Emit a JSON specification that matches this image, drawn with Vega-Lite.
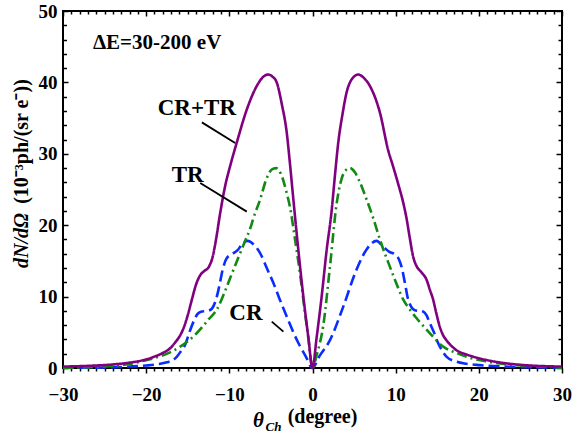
{
  "$schema": "https://vega.github.io/schema/vega-lite/v6.json",
  "autosize": "none",
  "width": 499,
  "height": 357,
  "padding": {"left": 63, "top": 11, "right": 10, "bottom": 66},
  "background": "white",
  "config": {
    "view": {"stroke": "black", "strokeWidth": 2},
    "font": "Liberation Serif",
    "axis": {"grid": false, "domain": false, "tickColor": "black", "tickWidth": 1.5, "labelColor": "black", "titleColor": "black", "labelFont": "Liberation Serif", "titleFont": "Liberation Serif", "labelFontWeight": "bold", "titleFontWeight": "bold", "labelFontSize": 19, "titleFontSize": 20}
  },
  "datasets": {
    "curves": [
      {"s": "CR", "theta": -30, "v": 0.02}, {"s": "CR", "theta": -26, "v": 0.05}, {"s": "CR", "theta": -22, "v": 0.2}, {"s": "CR", "theta": -20, "v": 0.35}, {"s": "CR", "theta": -18.5, "v": 0.55}, {"s": "CR", "theta": -17.5, "v": 0.8}, {"s": "CR", "theta": -16.8, "v": 1.1}, {"s": "CR", "theta": -16.3, "v": 1.6}, {"s": "CR", "theta": -15.8, "v": 2.4}, {"s": "CR", "theta": -15.3, "v": 3.3}, {"s": "CR", "theta": -14.8, "v": 5.0}, {"s": "CR", "theta": -14.3, "v": 6.5}, {"s": "CR", "theta": -13.8, "v": 7.6}, {"s": "CR", "theta": -13.3, "v": 7.9}, {"s": "CR", "theta": -12.6, "v": 8.0}, {"s": "CR", "theta": -12.1, "v": 8.3}, {"s": "CR", "theta": -11.6, "v": 9.6}, {"s": "CR", "theta": -11.2, "v": 11.5}, {"s": "CR", "theta": -10.8, "v": 13.8}, {"s": "CR", "theta": -10.3, "v": 15.4}, {"s": "CR", "theta": -9.6, "v": 16.0}, {"s": "CR", "theta": -9.0, "v": 16.5}, {"s": "CR", "theta": -8.5, "v": 17.3}, {"s": "CR", "theta": -7.8, "v": 17.8}, {"s": "CR", "theta": -7.0, "v": 17.2}, {"s": "CR", "theta": -6.3, "v": 16.1}, {"s": "CR", "theta": -5.5, "v": 14.0}, {"s": "CR", "theta": -4.7, "v": 11.9}, {"s": "CR", "theta": -3.9, "v": 9.5}, {"s": "CR", "theta": -3.1, "v": 7.2}, {"s": "CR", "theta": -1.7, "v": 3.5}, {"s": "CR", "theta": -0.8, "v": 1.6}, {"s": "CR", "theta": 0, "v": 0},
      {"s": "CR", "theta": 0.8, "v": 1.6}, {"s": "CR", "theta": 2.1, "v": 3.9}, {"s": "CR", "theta": 3.7, "v": 8.6}, {"s": "CR", "theta": 5.3, "v": 13.8}, {"s": "CR", "theta": 6.5, "v": 16.6}, {"s": "CR", "theta": 7.7, "v": 17.8}, {"s": "CR", "theta": 8.5, "v": 17.0}, {"s": "CR", "theta": 9.2, "v": 16.3}, {"s": "CR", "theta": 9.9, "v": 15.9}, {"s": "CR", "theta": 10.4, "v": 15.2}, {"s": "CR", "theta": 10.7, "v": 14.2}, {"s": "CR", "theta": 11.1, "v": 12.0}, {"s": "CR", "theta": 11.5, "v": 9.6}, {"s": "CR", "theta": 12.3, "v": 8.1}, {"s": "CR", "theta": 13.3, "v": 7.9}, {"s": "CR", "theta": 13.7, "v": 7.4}, {"s": "CR", "theta": 14.1, "v": 6.3}, {"s": "CR", "theta": 14.6, "v": 5.0}, {"s": "CR", "theta": 15.1, "v": 3.5}, {"s": "CR", "theta": 15.6, "v": 2.4}, {"s": "CR", "theta": 16.1, "v": 1.6}, {"s": "CR", "theta": 17.3, "v": 0.9}, {"s": "CR", "theta": 18.5, "v": 0.6}, {"s": "CR", "theta": 20.1, "v": 0.4}, {"s": "CR", "theta": 23, "v": 0.2}, {"s": "CR", "theta": 26, "v": 0.1}, {"s": "CR", "theta": 30, "v": 0.05},
      {"s": "TR", "theta": -30, "v": 0.05}, {"s": "TR", "theta": -27, "v": 0.1}, {"s": "TR", "theta": -25, "v": 0.2}, {"s": "TR", "theta": -23, "v": 0.4}, {"s": "TR", "theta": -21, "v": 0.8}, {"s": "TR", "theta": -20, "v": 1.1}, {"s": "TR", "theta": -19, "v": 1.4}, {"s": "TR", "theta": -17.9, "v": 1.8}, {"s": "TR", "theta": -15.9, "v": 3.0}, {"s": "TR", "theta": -13.9, "v": 4.9}, {"s": "TR", "theta": -12.5, "v": 6.8}, {"s": "TR", "theta": -11.5, "v": 8.2}, {"s": "TR", "theta": -10.5, "v": 10.8}, {"s": "TR", "theta": -9.9, "v": 12.6}, {"s": "TR", "theta": -8.9, "v": 15.5}, {"s": "TR", "theta": -8.1, "v": 17.8}, {"s": "TR", "theta": -7.5, "v": 19.5}, {"s": "TR", "theta": -7.1, "v": 21.0}, {"s": "TR", "theta": -6.3, "v": 23.6}, {"s": "TR", "theta": -5.5, "v": 26.6}, {"s": "TR", "theta": -4.9, "v": 27.8}, {"s": "TR", "theta": -4.4, "v": 28.0}, {"s": "TR", "theta": -3.8, "v": 27.2}, {"s": "TR", "theta": -3.1, "v": 24.5}, {"s": "TR", "theta": -2.7, "v": 22.5}, {"s": "TR", "theta": -2.1, "v": 18.0}, {"s": "TR", "theta": -1.5, "v": 13.2}, {"s": "TR", "theta": -1.0, "v": 8.6}, {"s": "TR", "theta": -0.5, "v": 4.2}, {"s": "TR", "theta": 0, "v": 0},
      {"s": "TR", "theta": 0.5, "v": 1.8}, {"s": "TR", "theta": 1.3, "v": 6.0}, {"s": "TR", "theta": 2.1, "v": 14.2}, {"s": "TR", "theta": 2.9, "v": 23.0}, {"s": "TR", "theta": 3.5, "v": 26.5}, {"s": "TR", "theta": 4.0, "v": 27.7}, {"s": "TR", "theta": 4.5, "v": 28.0}, {"s": "TR", "theta": 5.1, "v": 27.4}, {"s": "TR", "theta": 5.7, "v": 26.0}, {"s": "TR", "theta": 6.5, "v": 23.6}, {"s": "TR", "theta": 7.3, "v": 21.0}, {"s": "TR", "theta": 8.1, "v": 18.0}, {"s": "TR", "theta": 9.3, "v": 14.2}, {"s": "TR", "theta": 10.1, "v": 11.8}, {"s": "TR", "theta": 10.9, "v": 9.6}, {"s": "TR", "theta": 11.7, "v": 8.2}, {"s": "TR", "theta": 12.5, "v": 7.0}, {"s": "TR", "theta": 14.1, "v": 4.9}, {"s": "TR", "theta": 15.7, "v": 3.0}, {"s": "TR", "theta": 17.3, "v": 2.1}, {"s": "TR", "theta": 19, "v": 1.4}, {"s": "TR", "theta": 21, "v": 0.9}, {"s": "TR", "theta": 23, "v": 0.55}, {"s": "TR", "theta": 25.7, "v": 0.3}, {"s": "TR", "theta": 30, "v": 0.05},
      {"s": "CR+TR", "theta": -30, "v": 0.2}, {"s": "CR+TR", "theta": -27, "v": 0.3}, {"s": "CR+TR", "theta": -24, "v": 0.5}, {"s": "CR+TR", "theta": -22, "v": 0.75}, {"s": "CR+TR", "theta": -20, "v": 1.2}, {"s": "CR+TR", "theta": -19, "v": 1.6}, {"s": "CR+TR", "theta": -18, "v": 2.1}, {"s": "CR+TR", "theta": -17, "v": 2.9}, {"s": "CR+TR", "theta": -16.5, "v": 3.6}, {"s": "CR+TR", "theta": -16, "v": 4.4}, {"s": "CR+TR", "theta": -15.5, "v": 5.6}, {"s": "CR+TR", "theta": -15, "v": 7.4}, {"s": "CR+TR", "theta": -14.5, "v": 9.6}, {"s": "CR+TR", "theta": -14, "v": 11.7}, {"s": "CR+TR", "theta": -13.5, "v": 13.0}, {"s": "CR+TR", "theta": -13, "v": 13.6}, {"s": "CR+TR", "theta": -12.5, "v": 14.1}, {"s": "CR+TR", "theta": -12, "v": 15.6}, {"s": "CR+TR", "theta": -11.6, "v": 18.0}, {"s": "CR+TR", "theta": -11.1, "v": 21.7}, {"s": "CR+TR", "theta": -10.5, "v": 25.5}, {"s": "CR+TR", "theta": -9.9, "v": 28.3}, {"s": "CR+TR", "theta": -9.1, "v": 31.6}, {"s": "CR+TR", "theta": -7.9, "v": 36.2}, {"s": "CR+TR", "theta": -6.7, "v": 39.5}, {"s": "CR+TR", "theta": -5.8, "v": 40.9}, {"s": "CR+TR", "theta": -5.3, "v": 41.1}, {"s": "CR+TR", "theta": -4.8, "v": 40.8}, {"s": "CR+TR", "theta": -4.3, "v": 40.0}, {"s": "CR+TR", "theta": -3.7, "v": 37.0}, {"s": "CR+TR", "theta": -3.1, "v": 33.0}, {"s": "CR+TR", "theta": -2.7, "v": 28.5}, {"s": "CR+TR", "theta": -2.3, "v": 23.6}, {"s": "CR+TR", "theta": -1.7, "v": 16.5}, {"s": "CR+TR", "theta": -1.1, "v": 10.0}, {"s": "CR+TR", "theta": -0.5, "v": 4.3}, {"s": "CR+TR", "theta": 0, "v": 0},
      {"s": "CR+TR", "theta": 0.5, "v": 4.3}, {"s": "CR+TR", "theta": 1.1, "v": 10.0}, {"s": "CR+TR", "theta": 1.7, "v": 16.5}, {"s": "CR+TR", "theta": 2.3, "v": 22.0}, {"s": "CR+TR", "theta": 2.7, "v": 27.0}, {"s": "CR+TR", "theta": 3.1, "v": 31.6}, {"s": "CR+TR", "theta": 3.6, "v": 35.5}, {"s": "CR+TR", "theta": 4.1, "v": 38.6}, {"s": "CR+TR", "theta": 4.7, "v": 40.4}, {"s": "CR+TR", "theta": 5.5, "v": 41.1}, {"s": "CR+TR", "theta": 6.2, "v": 40.6}, {"s": "CR+TR", "theta": 6.9, "v": 39.5}, {"s": "CR+TR", "theta": 8.1, "v": 35.8}, {"s": "CR+TR", "theta": 9.1, "v": 30.5}, {"s": "CR+TR", "theta": 9.7, "v": 28.2}, {"s": "CR+TR", "theta": 10.3, "v": 25.8}, {"s": "CR+TR", "theta": 10.9, "v": 23.2}, {"s": "CR+TR", "theta": 11.3, "v": 21.0}, {"s": "CR+TR", "theta": 11.7, "v": 18.2}, {"s": "CR+TR", "theta": 12.1, "v": 15.6}, {"s": "CR+TR", "theta": 12.5, "v": 14.3}, {"s": "CR+TR", "theta": 13.1, "v": 13.4}, {"s": "CR+TR", "theta": 13.7, "v": 12.4}, {"s": "CR+TR", "theta": 14.1, "v": 11.0}, {"s": "CR+TR", "theta": 14.5, "v": 9.6}, {"s": "CR+TR", "theta": 14.9, "v": 7.6}, {"s": "CR+TR", "theta": 15.3, "v": 5.8}, {"s": "CR+TR", "theta": 15.7, "v": 4.6}, {"s": "CR+TR", "theta": 16.1, "v": 3.9}, {"s": "CR+TR", "theta": 16.7, "v": 3.1}, {"s": "CR+TR", "theta": 17.3, "v": 2.5}, {"s": "CR+TR", "theta": 18.5, "v": 1.9}, {"s": "CR+TR", "theta": 19.3, "v": 1.6}, {"s": "CR+TR", "theta": 21, "v": 1.1}, {"s": "CR+TR", "theta": 23, "v": 0.7}, {"s": "CR+TR", "theta": 25, "v": 0.45}, {"s": "CR+TR", "theta": 27, "v": 0.3}, {"s": "CR+TR", "theta": 30, "v": 0.2}
    ],
    "labels": [
      {"label": "CR+TR", "theta": -13.9, "v": 35.5},
      {"label": "TR", "theta": -15.0, "v": 26.1},
      {"label": "CR", "theta": -8.0, "v": 6.7}
    ],
    "leaders": [
      {"theta": -13.3, "v": 34.4, "theta2": -9.3, "v2": 31.5},
      {"theta": -13.5, "v": 25.9, "theta2": -7.9, "v2": 21.9},
      {"theta": -4.9, "v": 6.5, "theta2": -3.5, "v2": 5.1}
    ],
    "note": [
      {"label": "ΔE=30-200 eV", "theta": -26.4, "v": 44.7}
    ]
  },
  "resolve": {"axis": {"x": "independent", "y": "independent"}},
  "layer": [
    {
      "data": {"name": "curves"},
      "mark": {"type": "line", "strokeWidth": 2.6, "interpolate": "monotone"},
      "encoding": {
        "x": {"field": "theta", "type": "quantitative", "scale": {"domain": [-30, 30], "nice": false, "zero": false},
          "axis": {"orient": "bottom", "values": [-30, -20, -10, 0, 10, 20, 30], "tickSize": 5, "labelPadding": 12, "labelFlush": false, "title": "(degree)", "titleFontSize": 20, "titleAlign": "center", "titleBaseline": "alphabetic", "titleX": 259, "titleY": 54}},
        "y": {"field": "v", "type": "quantitative", "scale": {"domain": [0, 50], "nice": false},
          "axis": {"orient": "left", "values": [0, 10, 20, 30, 40, 50], "tickSize": -5, "labelPadding": 11, "labelFlush": false, "title": "(10⁻³ph/(sr e⁻))", "titleFontSize": 20, "titleAlign": "center", "titleBaseline": "alphabetic", "titleAngle": -90, "titleX": -36, "titleY": 130}},
        "color": {"field": "s", "type": "nominal", "scale": {"domain": ["CR", "TR", "CR+TR"], "range": ["#0a2dff", "#128a12", "#800080"]}, "legend": null},
        "strokeDash": {"field": "s", "type": "nominal", "scale": {"domain": ["CR", "TR", "CR+TR"], "range": [[11, 5], [10, 4, 2, 4], [1, 0]]}, "legend": null}
      }
    },
    {
      "data": {"name": "labels"},
      "mark": {"type": "text", "font": "Liberation Serif", "fontWeight": "bold", "fontSize": 23, "align": "center", "baseline": "alphabetic", "color": "black"},
      "encoding": {
        "x": {"field": "theta", "type": "quantitative", "scale": {"domain": [-30, 30], "nice": false, "zero": false},
          "axis": {"orient": "bottom", "values": [-29,-28,-27,-26,-25,-24,-23,-22,-21,-19,-18,-17,-16,-15,-14,-13,-12,-11,-9,-8,-7,-6,-5,-4,-3,-2,-1,1,2,3,4,5,6,7,8,9,11,12,13,14,15,16,17,18,19,21,22,23,24,25,26,27,28,29], "tickSize": 3, "labels": false, "title": "θ", "titleFontStyle": "italic", "titleFontSize": 21, "titleAlign": "center", "titleBaseline": "alphabetic", "titleX": 195, "titleY": 58}},
        "y": {"field": "v", "type": "quantitative", "scale": {"domain": [0, 50], "nice": false},
          "axis": {"orient": "left", "values": [2,4,6,8,12,14,16,18,22,24,26,28,32,34,36,38,42,44,46,48], "tickSize": -3.5, "labels": false, "title": "dN/dΩ", "titleFontStyle": "italic", "titleFontSize": 20, "titleAlign": "center", "titleBaseline": "alphabetic", "titleAngle": -90, "titleX": -36, "titleY": 229}},
        "text": {"field": "label"}
      }
    },
    {
      "data": {"name": "leaders"},
      "mark": {"type": "rule", "color": "black", "strokeWidth": 1.8},
      "encoding": {
        "x": {"field": "theta", "type": "quantitative", "scale": {"domain": [-30, 30], "nice": false, "zero": false},
          "axis": {"orient": "top", "values": [-30, -20, -10, 0, 10, 20, 30], "tickSize": -5, "labels": false, "title": "Ch", "titleFontStyle": "italic", "titleFontSize": 13, "titleAlign": "left", "titleBaseline": "alphabetic", "titleX": 202, "titleY": 419}},
        "y": {"field": "v", "type": "quantitative", "scale": {"domain": [0, 50], "nice": false},
          "axis": {"orient": "right", "values": [0, 10, 20, 30, 40, 50], "tickSize": -6, "labels": false, "title": null}},
        "x2": {"field": "theta2"},
        "y2": {"field": "v2"}
      }
    },
    {
      "data": {"name": "note"},
      "mark": {"type": "text", "font": "Liberation Serif", "fontWeight": "bold", "fontSize": 21, "align": "left", "baseline": "alphabetic", "color": "black"},
      "encoding": {
        "x": {"field": "theta", "type": "quantitative", "scale": {"domain": [-30, 30], "nice": false, "zero": false},
          "axis": {"orient": "top", "values": [-29,-28,-27,-26,-25,-24,-23,-22,-21,-19,-18,-17,-16,-15,-14,-13,-12,-11,-9,-8,-7,-6,-5,-4,-3,-2,-1,1,2,3,4,5,6,7,8,9,11,12,13,14,15,16,17,18,19,21,22,23,24,25,26,27,28,29], "tickSize": -3, "labels": false, "title": null}},
        "y": {"field": "v", "type": "quantitative", "scale": {"domain": [0, 50], "nice": false},
          "axis": {"orient": "right", "values": [2,4,6,8,12,14,16,18,22,24,26,28,32,34,36,38,42,44,46,48], "tickSize": -4, "labels": false, "title": null}},
        "text": {"field": "label"}
      }
    }
  ]
}
